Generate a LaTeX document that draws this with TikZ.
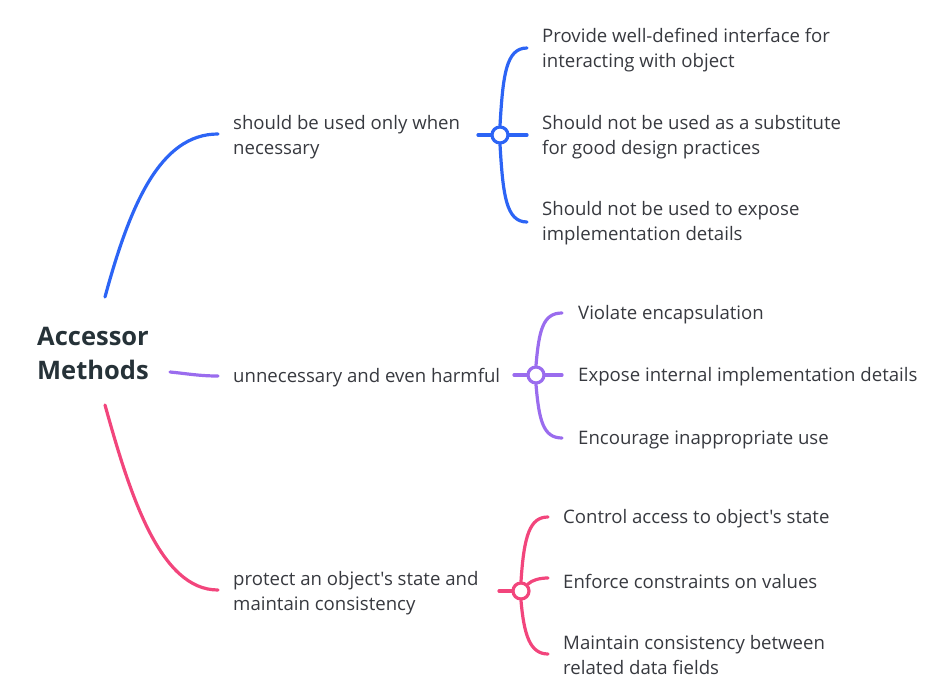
\documentclass[tikz,border=0pt]{standalone}
\usepackage{fontspec}
\setmainfont{Open Sans}[Ligatures=TeXOff]
\definecolor{cblue}{HTML}{2C64F5}
\definecolor{cpurple}{HTML}{9A6CEE}
\definecolor{cpink}{HTML}{F2457C}
\definecolor{ctext}{HTML}{37393F}
\definecolor{croot}{HTML}{263238}
\begin{document}
\begin{tikzpicture}[x=1pt,y=-1pt,
  lbl/.style={anchor=west,inner sep=0pt,align=left,text=ctext,yshift=-2pt,font=\fontsize{18.6}{24.5}\selectfont},
  conn/.style={line width=3.2pt,line cap=round},
  junc/.style={circle,draw,line width=3.2pt,fill=white,minimum size=16pt,inner sep=0pt}]
\useasboundingbox (0,0) rectangle (951,688);
% root
\node[anchor=west,inner sep=0pt,align=left,text=croot,font=\fontsize{25.5}{34}\bfseries\selectfont] (root) at (37,353) {Accessor\\Methods};
\coordinate (rb) at (105,297);
\coordinate (rp) at (170,372);
\coordinate (rk) at (105,405);
% level 1 ends
\coordinate (b1) at (218,134);
\coordinate (p1) at (218,376);
\coordinate (k1) at (218,590);
\node[lbl] (tb) at (233,135) {should be used only when\\necessary};
\node[lbl] (tp) at (233,376) {unnecessary and even harmful};
\node[lbl] (tk) at (233,591) {protect an object's state and\\maintain consistency};
\draw[conn,cblue] (rb) .. controls (130,205) and (160,134) .. (b1);
\draw[conn,cpurple] (rp) .. controls (190,374) and (200,376) .. (p1);
\draw[conn,cpink] (rk) .. controls (130,495) and (160,590) .. (k1);
% blue junction
\coordinate (bs) at (478,135);
\node[junc,draw=cblue] (bj) at (500,135) {};
\coordinate (bc1) at (527,48);
\coordinate (bc2) at (527,135);
\coordinate (bc3) at (527,222);
\draw[conn,cblue] (bs) -- (bj.west);
\draw[conn,cblue] (bj.east) -- (bc2);
\draw[conn,cblue] (bj.north) .. controls (503,75) and (506,48) .. (bc1);
\draw[conn,cblue] (bj.south) .. controls (503,195) and (506,222) .. (bc3);
\node[lbl] (tb1) at (542,48) {Provide well-defined interface for\\interacting with object};
\node[lbl] (tb2) at (542,135) {Should not be used as a substitute\\for good design practices};
\node[lbl] (tb3) at (542,221) {Should not be used to expose\\implementation details};
% purple junction
\coordinate (ps) at (514,375);
\node[junc,draw=cpurple] (pj) at (536,375) {};
\coordinate (pc1) at (562,313);
\coordinate (pc2) at (562,375);
\coordinate (pc3) at (562,438);
\draw[conn,cpurple] (ps) -- (pj.west);
\draw[conn,cpurple] (pj.east) -- (pc2);
\draw[conn,cpurple] (pj.north) .. controls (539,330) and (543,313) .. (pc1);
\draw[conn,cpurple] (pj.south) .. controls (539,420) and (543,438) .. (pc3);
\node[lbl] (tp1) at (578,313) {Violate encapsulation};
\node[lbl] (tp2) at (578,375) {Expose internal implementation details};
\node[lbl] (tp3) at (578,438) {Encourage inappropriate use};
% pink junction
\coordinate (ks) at (499,591);
\node[junc,draw=cpink] (kj) at (521,591) {};
\coordinate (kc1) at (548,517);
\coordinate (kc2) at (548,578);
\coordinate (kc3) at (548,654);
\draw[conn,cpink] (ks) -- (kj.west);
\draw[conn,cpink] (kj.north east) .. controls (532,580) and (540,578) .. (kc2);
\draw[conn,cpink] (kj.north) .. controls (524,535) and (530,517) .. (kc1);
\draw[conn,cpink] (kj.south) .. controls (524,635) and (530,654) .. (kc3);
\node[lbl] (tk1) at (563,517) {Control access to object's state};
\node[lbl] (tk2) at (563,579) {Enforce constraints on values};
\node[lbl] (tk3) at (563,653) {Maintain consistency between\\related data fields};
\end{tikzpicture}
\end{document}
